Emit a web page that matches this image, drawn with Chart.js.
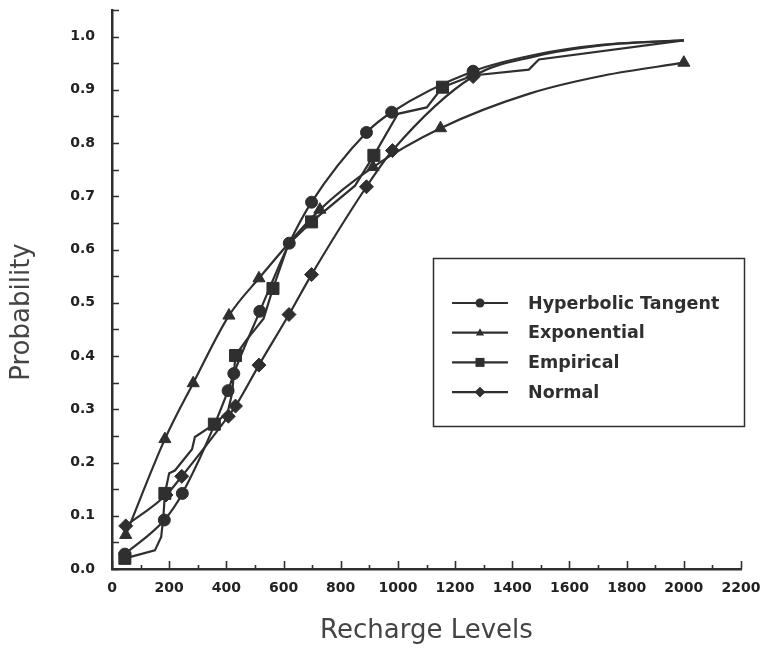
<!DOCTYPE html>
<html>
<head>
<meta charset="utf-8">
<script src="https://cdn.jsdelivr.net/npm/chart.js@4/dist/chart.umd.min.js"></script>
<style>
  html, body { margin: 0; padding: 0; background: #fff; }
  #wrap { width: 763px; height: 653px; }
</style>
</head>
<body>
<div id="wrap"><canvas id="chart" width="763" height="653"></canvas></div>
<script>
// recharge level (x) vs cumulative probability (y) for each fitted distribution
var tanhX = [45, 183, 246, 406, 426, 517, 620, 698, 890, 978, 1263, 1480, 1720, 2000];
var tanhY = [0.028, 0.092, 0.142, 0.335, 0.367, 0.484, 0.612, 0.689, 0.820, 0.858, 0.935, 0.966, 0.985, 0.993];
var tanhMarks = [0, 1, 2, 3, 4, 5, 6, 7, 8, 9, 10];

var expoX = [48, 185, 284, 409, 514, 727, 913, 1149, 1460, 1720, 2000];
var expoY = [0.064, 0.244, 0.349, 0.476, 0.546, 0.675, 0.755, 0.828, 0.893, 0.927, 0.951];
var expoMarks = [0, 1, 2, 3, 4, 5, 6, 7, 10];

var empX = [45, 150, 172, 180, 185, 200, 220, 280, 290, 358, 405, 420, 432, 470, 530, 563, 617, 698, 850, 916, 1000, 1101, 1156, 1262, 1458, 1493, 2000];
var empY = [0.020, 0.035, 0.060, 0.100, 0.142, 0.180, 0.185, 0.225, 0.248, 0.272, 0.295, 0.330, 0.401, 0.430, 0.470, 0.527, 0.610, 0.652, 0.720, 0.777, 0.855, 0.867, 0.905, 0.927, 0.938, 0.957, 0.993];
var empMarks = [0, 4, 9, 12, 15, 17, 19, 22];

var normX = [48, 189, 244, 407, 432, 514, 619, 698, 890, 981, 1263, 1480, 1720, 2000];
var normY = [0.081, 0.139, 0.174, 0.287, 0.306, 0.383, 0.478, 0.553, 0.718, 0.786, 0.925, 0.963, 0.984, 0.993];
var normMarks = [0, 1, 2, 3, 4, 5, 6, 7, 8, 9, 10];

var seriesNames = ['Hyperbolic Tangent', 'Exponential', 'Empirical', 'Normal'];
var xTickValues = [0, 200, 400, 600, 800, 1000, 1200, 1400, 1600, 1800, 2000, 2200];
var yTickValues = [0, 0.1, 0.2, 0.3, 0.4, 0.5, 0.6, 0.7, 0.8, 0.9, 1.0];

var INK = '#2f2f2f';

function pts(xs, ys) {
  return xs.map(function (x, i) { return { x: x, y: ys[i] }; });
}

function marked(list, r) {
  return function (ctx) { return list.indexOf(ctx.dataIndex) >= 0 ? r : 0; };
}

function makeSet(name, xs, ys, marks, style, r, smooth) {
  return {
    label: name,
    data: pts(xs, ys),
    borderColor: INK,
    backgroundColor: INK,
    borderWidth: 2.2,
    pointStyle: style,
    pointRadius: marked(marks, r),
    pointHoverRadius: marked(marks, r),
    pointBackgroundColor: INK,
    pointBorderColor: INK,
    pointBorderWidth: 1,
    cubicInterpolationMode: smooth ? 'monotone' : 'default',
    tension: 0,
    clip: false
  };
}

// no label overhang padding, so the plot box sits where the layout puts it
function noPad(s) {
  s.paddingTop = 0;
  s.paddingBottom = 0;
  s.paddingLeft = 0;
  s.paddingRight = 0;
}

// small marker shapes for the legend box
function drawMark(ctx, style, x, y, r) {
  ctx.beginPath();
  if (style === 'circle') {
    ctx.arc(x, y, r, 0, Math.PI * 2);
  } else if (style === 'triangle') {
    ctx.moveTo(x, y - r);
    ctx.lineTo(x + r * 0.9, y + r * 0.6);
    ctx.lineTo(x - r * 0.9, y + r * 0.6);
  } else if (style === 'rect') {
    ctx.rect(x - r, y - r, r * 2, r * 2);
  } else {
    ctx.moveTo(x, y - r * 1.2);
    ctx.lineTo(x + r * 1.2, y);
    ctx.lineTo(x, y + r * 1.2);
    ctx.lineTo(x - r * 1.2, y);
  }
  ctx.closePath();
  ctx.fill();
}

var extras = {
  id: 'extras',
  afterDraw: function (chart) {
    var ctx = chart.ctx;
    var xs = chart.scales.x, ys = chart.scales.y;
    ctx.save();
    ctx.strokeStyle = INK;
    ctx.fillStyle = INK;

    // inward tick marks
    ctx.lineWidth = 1.6;
    ctx.beginPath();
    for (var v = 0; v <= 1.0501; v += 0.05) {
      var py = Math.round(ys.getPixelForValue(v)) + 0.5;
      ctx.moveTo(xs.left, py);
      ctx.lineTo(xs.left + 7, py);
    }
    for (var t = 0; t <= 2200; t += 100) {
      var px = Math.round(xs.getPixelForValue(t)) + 0.5;
      ctx.moveTo(px, ys.bottom);
      ctx.lineTo(px, ys.bottom - (t % 200 === 0 ? 8 : 4));
    }
    ctx.stroke();

    // y axis title
    ctx.save();
    ctx.translate(22, 312);
    ctx.rotate(-Math.PI / 2);
    ctx.font = '26px "DejaVu Sans"';
    ctx.fillStyle = '#444';
    ctx.textAlign = 'center';
    ctx.textBaseline = 'middle';
    ctx.fillText('Probability', 0, 0);
    ctx.restore();

    // legend box
    var bx = 433, by = 258, bw = 311, bh = 168;
    ctx.lineWidth = 1.5;
    ctx.strokeRect(bx + 0.5, by + 0.5, bw, bh);
    ctx.font = 'bold 17.5px "DejaVu Sans"';
    ctx.textBaseline = 'middle';
    ctx.textAlign = 'left';
    chart.data.datasets.forEach(function (ds, i) {
      var ry = by + 45 + i * 29.7;
      ctx.lineWidth = 2.2;
      ctx.beginPath();
      ctx.moveTo(bx + 19, ry);
      ctx.lineTo(bx + 75, ry);
      ctx.stroke();
      drawMark(ctx, ds.pointStyle, bx + 47, ry, 4.5);
      ctx.fillText(ds.label, bx + 95, ry + 1);
    });
    ctx.restore();
  }
};

new Chart(document.getElementById('chart'), {
  type: 'line',
  data: {
    datasets: [
      makeSet(seriesNames[0], tanhX, tanhY, tanhMarks, 'circle', 6, true),
      makeSet(seriesNames[1], expoX, expoY, expoMarks, 'triangle', 7, true),
      makeSet(seriesNames[2], empX, empY, empMarks, 'rect', 8.5, false),
      makeSet(seriesNames[3], normX, normY, normMarks, 'rectRot', 7, true)
    ]
  },
  options: {
    responsive: false,
    animation: false,
    layout: { padding: { left: 0, right: 22, top: 10, bottom: 0 } },
    plugins: {
      legend: { display: false },
      tooltip: { enabled: false }
    },
    scales: {
      x: {
        type: 'linear',
        min: 0,
        max: 2200,
        afterBuildTicks: function (s) { s.ticks = xTickValues.map(function (v) { return { value: v }; }); },
        afterFit: function (s) { s.height = 84; noPad(s); },
        grid: { display: false, drawTicks: false },
        border: { display: true, color: INK, width: 2.5 },
        ticks: {
          autoSkip: false,
          maxRotation: 0,
          padding: 11,
          color: '#222',
          font: { family: 'DejaVu Sans', size: 14, weight: 'bold' },
          callback: function (v) { return String(v); }
        },
        title: {
          display: true,
          text: 'Recharge Levels',
          color: '#444',
          font: { family: 'DejaVu Sans', size: 26 },
          padding: { top: 0, bottom: 6 }
        }
      },
      y: {
        type: 'linear',
        min: 0,
        max: 1.05,
        afterBuildTicks: function (s) { s.ticks = yTickValues.map(function (v) { return { value: v }; }); },
        afterFit: function (s) { s.width = 112; noPad(s); },
        grid: { display: false, drawTicks: false },
        border: { display: true, color: INK, width: 2.5 },
        ticks: {
          autoSkip: false,
          padding: 17,
          color: '#222',
          font: { family: 'DejaVu Sans', size: 14, weight: 'bold' },
          callback: function (v) { return v.toFixed(1); }
        }
      }
    }
  },
  plugins: [extras]
});
</script>
</body>
</html>
